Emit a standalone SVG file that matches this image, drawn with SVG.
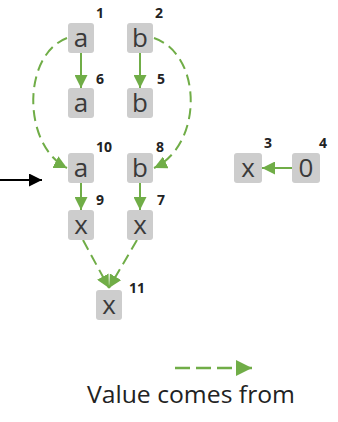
<svg xmlns="http://www.w3.org/2000/svg" width="338" height="422" viewBox="0 0 338 422">
  <style>
    .box { fill: #cdcdcd; }
    .val { font-family: "Open Sans", "Noto Sans", sans-serif; font-size: 26px; fill: #3a3a3a; text-anchor: middle; }
    .num { font-family: "Open Sans", "Noto Sans", sans-serif; font-size: 14px; font-weight: bold; fill: #222; }
    .solid { stroke: #70ad47; stroke-width: 2; fill: none; }
    .dash { stroke: #70ad47; stroke-width: 2; fill: none; stroke-dasharray: 11 6; }
    .legend { font-family: "Open Sans", "Noto Sans", sans-serif; font-size: 23px; fill: #222; }
  </style>
  <defs>
    <marker id="g" viewBox="0 0 10 10" refX="10" refY="5" markerWidth="6.5" markerHeight="6.5" markerUnits="strokeWidth" orient="auto">
      <path d="M0,0 L10,5 L0,10 Z" fill="#70ad47"/>
    </marker>
    <marker id="k" viewBox="0 0 10 10" refX="10" refY="5" markerWidth="6.5" markerHeight="6.5" markerUnits="strokeWidth" orient="auto">
      <path d="M0,0 L10,5 L0,10 Z" fill="#000"/>
    </marker>
  </defs>

  <g id="connectors">
    <line class="solid" x1="81" y1="53" x2="81" y2="88" marker-end="url(#g)"/>
    <line class="solid" x1="140" y1="53" x2="140" y2="88" marker-end="url(#g)"/>
    <line class="solid" x1="81" y1="183" x2="81" y2="210" marker-end="url(#g)"/>
    <line class="solid" x1="140" y1="183" x2="140" y2="210" marker-end="url(#g)"/>
    <line class="solid" x1="292" y1="168" x2="262" y2="168" marker-end="url(#g)"/>
    <path class="dash" d="M67,38 C22,55 22,145 67,168" marker-end="url(#g)"/>
    <path class="dash" d="M154,38 C203,55 203,145 154,168" marker-end="url(#g)"/>
    <path class="dash" d="M83,240 L109,288" marker-end="url(#g)"/>
    <path class="dash" d="M137,240 L109,288" marker-end="url(#g)"/>
    <line x1="0" y1="180" x2="42" y2="180" stroke="#000" stroke-width="2" marker-end="url(#k)"/>
    <line x1="175" y1="368" x2="252" y2="368" stroke="#70ad47" stroke-width="2.5" stroke-dasharray="15 6" marker-end="url(#g)"/>
  </g>

  <g id="n1"><rect class="box" x="68" y="23" width="26" height="30" rx="3"/><text class="val" x="81" y="47">a</text><text class="num" x="96" y="18">1</text></g>
  <g id="n2"><rect class="box" x="127" y="23" width="26" height="30" rx="3"/><text class="val" x="140" y="47">b</text><text class="num" x="155" y="18">2</text></g>
  <g id="n6"><rect class="box" x="68" y="88" width="26" height="30" rx="3"/><text class="val" x="81" y="112">a</text><text class="num" x="96" y="84">6</text></g>
  <g id="n5"><rect class="box" x="127" y="88" width="26" height="30" rx="3"/><text class="val" x="140" y="112">b</text><text class="num" x="157" y="84">5</text></g>
  <g id="n10"><rect class="box" x="68" y="153" width="26" height="30" rx="3"/><text class="val" x="81" y="177">a</text><text class="num" x="96" y="152">10</text></g>
  <g id="n8"><rect class="box" x="127" y="153" width="26" height="30" rx="3"/><text class="val" x="140" y="177">b</text><text class="num" x="156" y="152">8</text></g>
  <g id="n9"><rect class="box" x="68" y="210" width="26" height="30" rx="3"/><text class="val" x="81" y="234">x</text><text class="num" x="96" y="205">9</text></g>
  <g id="n7"><rect class="box" x="127" y="210" width="26" height="30" rx="3"/><text class="val" x="140" y="234">x</text><text class="num" x="157" y="205">7</text></g>
  <g id="n11"><rect class="box" x="96" y="290" width="26" height="30" rx="3"/><text class="val" x="109" y="314">x</text><text class="num" x="129" y="293">11</text></g>
  <g id="n3"><rect class="box" x="234" y="153" width="28" height="30" rx="3"/><text class="val" x="248" y="177">x</text><text class="num" x="264" y="148">3</text></g>
  <g id="n4"><rect class="box" x="292" y="153" width="28" height="30" rx="3"/><text class="val" x="306" y="177">0</text><text class="num" x="319" y="148">4</text></g>

  <text class="legend" x="87" y="403" textLength="208" lengthAdjust="spacingAndGlyphs">Value comes from</text>
</svg>
